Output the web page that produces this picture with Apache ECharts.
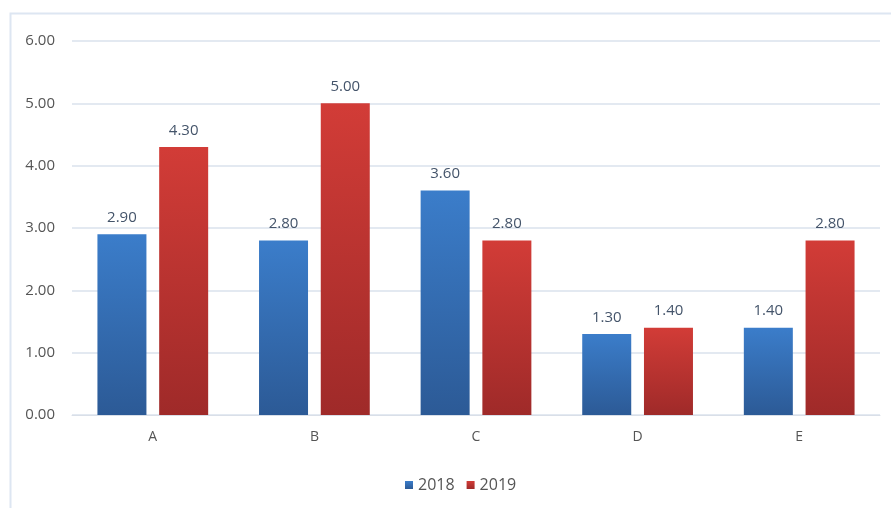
<!DOCTYPE html>
<html><head><meta charset="utf-8">
<script src="https://cdn.jsdelivr.net/npm/echarts@6/dist/echarts.min.js"></script>
<style>html,body{margin:0;padding:0;background:#fff}#c{width:891px;height:508px}</style>
</head><body><div id="c"></div>
<script>
const categories = ['A','B','C','D','E'];
const values2018 = [2.9, 2.8, 3.6, 1.3, 1.4];
const values2019 = [4.3, 5.0, 2.8, 1.4, 2.8];
const yTicks = { min: 0, max: 6, interval: 1 };

const chart = echarts.init(document.getElementById('c'));
const grad = (t, b) => new echarts.graphic.LinearGradient(0,0,0,1,[{offset:0,color:t},{offset:1,color:b}]);
const lbl = { show:true, position:'top', distance:9, color:'#44546a', fontSize:15, fontFamily:'Open Sans', formatter: p => p.value.toFixed(2) };
chart.setOption({
  animation:false,
  graphic:[{type:'rect', shape:{x:10.5,y:13.5,width:900,height:520}, style:{fill:'none', stroke:'#dde6f2', lineWidth:2}, silent:true}],
  grid:{left:72, right:11, top:41, bottom:93},
  legend:{bottom:10, left:400, itemWidth:8, itemHeight:8, itemGap:12, icon:'rect',
    textStyle:{color:'#555', fontSize:16, fontFamily:'Open Sans'}, data:['2018','2019']},
  xAxis:{type:'category', data:categories, axisTick:{show:false},
    axisLine:{lineStyle:{color:'#d9dfe8'}},
    axisLabel:{color:'#555', fontSize:14, margin:15, fontFamily:'Open Sans'}},
  yAxis:{type:'value', min:yTicks.min, max:yTicks.max, interval:yTicks.interval,
    axisLabel:{color:'#555', fontSize:15, margin:17, fontFamily:'Open Sans', formatter: v => v.toFixed(2)},
    splitLine:{lineStyle:{color:'#e3e9f1', width:2}}},
  series:[
    {name:'2018', type:'bar', data:values2018, barWidth:49, barGap:'26%',
     itemStyle:{color:grad('#3b7dca','#2c5a96')}, label:lbl},
    {name:'2019', type:'bar', data:values2019, barWidth:49,
     itemStyle:{color:grad('#d23c37','#9f2a29')}, label:lbl}
  ]
});
</script></body></html>
